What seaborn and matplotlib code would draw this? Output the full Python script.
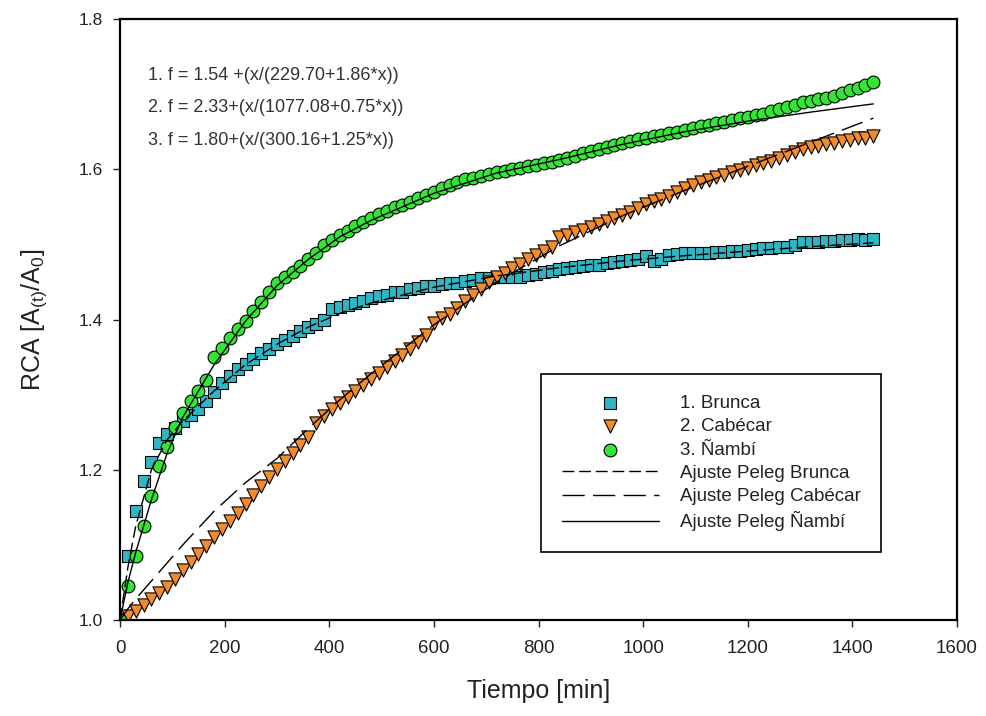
import matplotlib
matplotlib.use('Agg')
import matplotlib.pyplot as plt
import seaborn as sns
import pandas as pd

# sampling times of the measurements [min]
tiempo = [0, 15, 30, 45, 60, 75, 90, 105, 120, 135, 150, 165, 180, 195, 210, 225,
          240, 255, 270, 285, 300, 315, 330, 345, 360, 375, 390, 405, 420, 435, 450,
          465, 480, 495, 510, 525, 540, 555, 570, 585, 600, 615, 630, 645, 660, 675,
          690, 705, 720, 735, 750, 765, 780, 795, 810, 825, 840, 855, 870, 885, 900,
          915, 930, 945, 960, 975, 990, 1005, 1020, 1035, 1050, 1065, 1080, 1095,
          1110, 1125, 1140, 1155, 1170, 1185, 1200, 1215, 1230, 1245, 1260, 1275,
          1290, 1305, 1320, 1335, 1350, 1365, 1380, 1395, 1410, 1425, 1440]

brunca = [1.000, 1.085, 1.145, 1.185, 1.210, 1.235, 1.247, 1.256, 1.265, 1.273, 1.281,
          1.291, 1.304, 1.316, 1.325, 1.334, 1.341, 1.348, 1.355, 1.361, 1.367, 1.373,
          1.378, 1.385, 1.390, 1.394, 1.399, 1.414, 1.417, 1.419, 1.422, 1.425, 1.428,
          1.431, 1.433, 1.436, 1.437, 1.440, 1.442, 1.444, 1.445, 1.447, 1.448, 1.449,
          1.451, 1.453, 1.455, 1.455, 1.456, 1.456, 1.457, 1.457, 1.459, 1.461, 1.463,
          1.465, 1.467, 1.469, 1.470, 1.471, 1.472, 1.473, 1.475, 1.476, 1.478, 1.479,
          1.481, 1.484, 1.478, 1.480, 1.486, 1.487, 1.488, 1.488, 1.489, 1.489, 1.490,
          1.490, 1.491, 1.491, 1.493, 1.494, 1.495, 1.495, 1.496, 1.497, 1.499, 1.503,
          1.503, 1.503, 1.504, 1.505, 1.506, 1.506, 1.507, 1.506, 1.507]

cabecar = [1.000, 1.005, 1.012, 1.020, 1.028, 1.036, 1.044, 1.055, 1.066, 1.077, 1.088,
           1.099, 1.110, 1.121, 1.132, 1.143, 1.155, 1.166, 1.178, 1.190, 1.201, 1.212,
           1.222, 1.233, 1.244, 1.262, 1.272, 1.281, 1.289, 1.297, 1.305, 1.313, 1.321,
           1.329, 1.337, 1.345, 1.353, 1.361, 1.370, 1.380, 1.396, 1.402, 1.408, 1.415,
           1.424, 1.432, 1.440, 1.450, 1.456, 1.462, 1.468, 1.474, 1.480, 1.486, 1.491,
           1.496, 1.510, 1.513, 1.516, 1.519, 1.523, 1.527, 1.531, 1.535, 1.539, 1.543,
           1.549, 1.554, 1.558, 1.561, 1.565, 1.570, 1.575, 1.579, 1.583, 1.586, 1.590,
           1.593, 1.596, 1.599, 1.602, 1.605, 1.608, 1.611, 1.615, 1.619, 1.623, 1.627,
           1.629, 1.631, 1.633, 1.635, 1.637, 1.639, 1.641, 1.642, 1.644]

nambi = [1.000, 1.045, 1.085, 1.125, 1.165, 1.205, 1.230, 1.257, 1.275, 1.291, 1.305,
         1.320, 1.350, 1.362, 1.375, 1.388, 1.398, 1.411, 1.423, 1.436, 1.448, 1.456,
         1.463, 1.471, 1.480, 1.489, 1.499, 1.506, 1.513, 1.518, 1.524, 1.530, 1.535,
         1.540, 1.545, 1.550, 1.553, 1.557, 1.562, 1.566, 1.570, 1.575, 1.579, 1.583,
         1.587, 1.589, 1.591, 1.594, 1.596, 1.598, 1.600, 1.602, 1.604, 1.606, 1.608,
         1.610, 1.612, 1.615, 1.618, 1.621, 1.624, 1.627, 1.629, 1.632, 1.635, 1.637,
         1.640, 1.642, 1.644, 1.646, 1.648, 1.650, 1.652, 1.655, 1.657, 1.659, 1.661,
         1.663, 1.666, 1.668, 1.670, 1.672, 1.674, 1.677, 1.680, 1.683, 1.686, 1.689,
         1.691, 1.693, 1.695, 1.698, 1.702, 1.705, 1.708, 1.712, 1.716]

# Peleg fit curves
tiempo_fit = [0, 15, 30, 60, 90, 120, 180, 240, 300, 360, 420, 480, 600, 720, 840,
              960, 1080, 1200, 1320, 1440]
fit_brunca = [1.000, 1.070, 1.125, 1.200, 1.240, 1.265, 1.305, 1.340, 1.367, 1.390,
              1.408, 1.422, 1.443, 1.458, 1.469, 1.478, 1.485, 1.491, 1.497, 1.502]
fit_cabecar = [1.000, 1.015, 1.028, 1.052, 1.076, 1.100, 1.145, 1.183, 1.215, 1.255,
               1.293, 1.328, 1.393, 1.450, 1.498, 1.538, 1.572, 1.604, 1.636, 1.668]
fit_nambi = [1.000, 1.050, 1.090, 1.160, 1.222, 1.270, 1.340, 1.398, 1.445, 1.480,
             1.510, 1.532, 1.568, 1.595, 1.613, 1.633, 1.650, 1.664, 1.676, 1.687]

ecuaciones = ['1. f = 1.54 +(x/(229.70+1.86*x))',
              '2. f = 2.33+(x/(1077.08+0.75*x))',
              '3. f = 1.80+(x/(300.16+1.25*x))']

sns.set_style('ticks')
plt.rcParams['font.family'] = ['Liberation Sans', 'DejaVu Sans']
plt.rcParams['mathtext.fontset'] = 'custom'
plt.rcParams['mathtext.rm'] = 'Liberation Sans'
plt.rcParams['mathtext.it'] = 'Liberation Sans:italic'

df = pd.DataFrame({'t': tiempo, 'brunca': brunca, 'cabecar': cabecar, 'nambi': nambi})
df_fit = pd.DataFrame({'t': tiempo_fit, 'brunca': fit_brunca,
                       'cabecar': fit_cabecar, 'nambi': fit_nambi})

fig = plt.figure(figsize=(9.87, 7.16), dpi=100)
ax = fig.add_axes([0.1216, 0.134, 0.848, 0.8395])

sns.scatterplot(data=df, x='t', y='brunca', marker='s', color='#2fb6c4',
                edgecolor='black', linewidth=0.8, s=75, label='1. Brunca', ax=ax)
sns.scatterplot(data=df, x='t', y='cabecar', marker='v', color='#f28b2c',
                edgecolor='black', linewidth=0.8, s=90, label='2. Cabécar', ax=ax)
sns.scatterplot(data=df, x='t', y='nambi', marker='o', color='#33e633',
                edgecolor='black', linewidth=0.8, s=85, label='3. Ñambí', ax=ax)

sns.lineplot(data=df_fit, x='t', y='brunca', color='black', linewidth=1,
             linestyle=(0, (8.5, 3.5)), label='Ajuste Peleg Brunca', ax=ax)
sns.lineplot(data=df_fit, x='t', y='cabecar', color='black', linewidth=1,
             linestyle=(0, (16, 6)), label='Ajuste Peleg Cabécar', ax=ax)
sns.lineplot(data=df_fit, x='t', y='nambi', color='black', linewidth=1,
             label='Ajuste Peleg Ñambí', ax=ax)

ax.set_xlim(0, 1600)
ax.set_ylim(1.0, 1.8)
ax.set_xticks(range(0, 1601, 200))
ax.set_yticks([1.0, 1.2, 1.4, 1.6, 1.8])
ax.set_yticklabels(['1.0', '1.2', '1.4', '1.6', '1.8'])
ax.tick_params(axis='both', direction='out', length=5, width=1,
               colors='#222222', pad=7)
ax.tick_params(axis='x', labelsize=13.5, pad=9)
ax.tick_params(axis='y', labelsize=12.5)
for sp in ax.spines.values():
    sp.set_visible(True)
    sp.set_linewidth(1.6)
    sp.set_color('black')

ax.set_xlabel('Tiempo [min]', fontsize=18, labelpad=16, color='#222222')
ax.set_ylabel('RCA [A$_{\\mathrm{(t)}}$/A$_{\\mathrm{0}}$]', fontsize=18,
              labelpad=22, color='#222222')

for i, eq in enumerate(ecuaciones):
    ax.text(0.034, 0.906 - i * 0.054, eq, transform=ax.transAxes, fontsize=13,
            color='#333333', va='center', ha='left')

h, l = ax.get_legend_handles_labels()
leg = ax.legend(h, l, loc='upper left', bbox_to_anchor=(0.503, 0.409),
                fontsize=13.5, frameon=True, fancybox=False, framealpha=1,
                edgecolor='black', handlelength=5.2, labelspacing=0.33,
                borderpad=1.1, handletextpad=1.1, borderaxespad=0)
leg.get_frame().set_linewidth(1.2)
for t in leg.get_texts():
    t.set_color('#222222')

fig.savefig('out.png', dpi=100, facecolor='white')
